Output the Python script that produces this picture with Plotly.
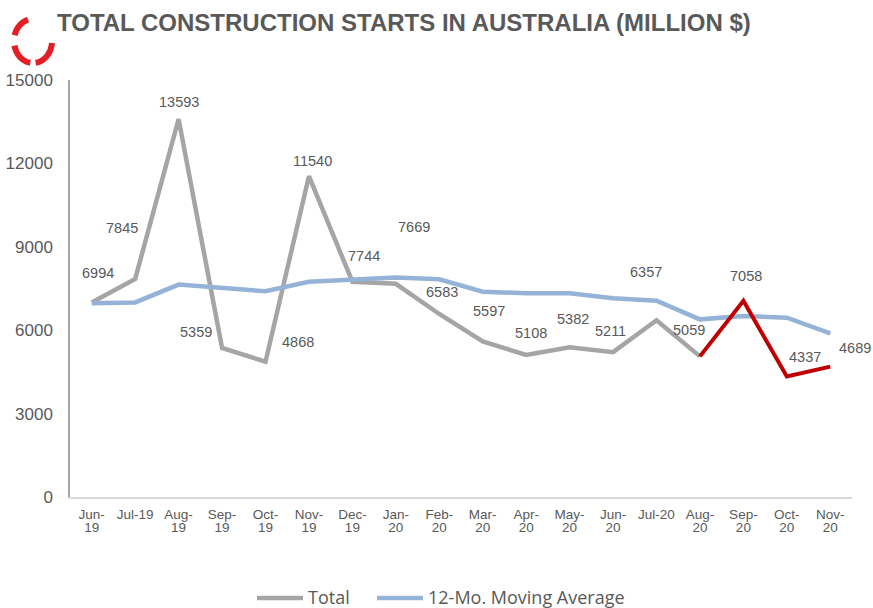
import numpy as np
import plotly.graph_objects as go

# ---------------- data ----------------
months = ["Jun-19", "Jul-19", "Aug-19", "Sep-19", "Oct-19", "Nov-19", "Dec-19",
          "Jan-20", "Feb-20", "Mar-20", "Apr-20", "May-20", "Jun-20", "Jul-20",
          "Aug-20", "Sep-20", "Oct-20", "Nov-20"]
tick_line1 = ["Jun-", "Jul-19", "Aug-", "Sep-", "Oct-", "Nov-", "Dec-", "Jan-", "Feb-",
              "Mar-", "Apr-", "May-", "Jun-", "Jul-20", "Aug-", "Sep-", "Oct-", "Nov-"]
tick_line2 = ["19", "", "19", "19", "19", "19", "19", "20", "20",
              "20", "20", "20", "20", "", "20", "20", "20", "20"]
total = [6994, 7845, 13593, 5359, 4868, 11540, 7744, 7669, 6583, 5597, 5108,
         5382, 5211, 6357, 5059, 7058, 4337, 4689]
moving_avg = [6970, 7000, 7640, 7540, 7400, 7745, 7830, 7900, 7830, 7385, 7330,
              7330, 7150, 7060, 6390, 6510, 6450, 5890]
highlight_start = 14  # Aug-20 onwards drawn in red
series_names = ["Total", "12-Mo. Moving Average"]

# label offsets (pixels) for the data labels: (dx, dy up)
label_dx = [6, -13, 0, -26, 32, 4, 12, 18, 3, 6, 5, 3, -3, -11, -11, 3, 18, 25]
label_dy = [30, 51, 17, 16, 20, 15, 26, 57, 22, 30, 22, 28, 21, 48, 26, 25, 19, 19]

GRAY_TXT = "#595959"
GRAY_LINE = "#A5A5A5"
BLUE_LINE = "#95B3D7"
RED_LINE = "#C00000"
FONT = "Liberation Sans, Arial"

fig = go.Figure()
fig.add_trace(go.Scatter(
    x=months[:highlight_start + 1], y=total[:highlight_start + 1],
    mode="lines", name=series_names[0],
    line=dict(color=GRAY_LINE, width=4.5), hoverinfo="skip"))
fig.add_trace(go.Scatter(
    x=months, y=moving_avg, mode="lines", name=series_names[1],
    line=dict(color=BLUE_LINE, width=4.5), hoverinfo="skip"))
fig.add_trace(go.Scatter(
    x=months[highlight_start:], y=total[highlight_start:], mode="lines",
    line=dict(color=RED_LINE, width=4), hoverinfo="skip"))
# invisible trace to carry the second tick-label row axis
fig.add_trace(go.Scatter(x=months, y=[None] * len(months), xaxis="x2",
                         hoverinfo="skip", mode="lines"))

for i, (m, v) in enumerate(zip(months, total)):
    fig.add_annotation(x=m, y=v, text=str(v), showarrow=False,
                       xshift=label_dx[i], yshift=label_dy[i],
                       font=dict(family=FONT, size=14.5, color=GRAY_TXT))

L, R, T, B = 70, 852, 80, 497
def px2paper(px, py):
    return (px - L) / (R - L), (B - py) / (B - T)

# logo: three red arc segments
cx, cy, rx, ry = 33, 41, 19, 22
for a0, a1 in [(105, 165), (192, 262), (278, 355)]:
    ang = np.radians(np.linspace(a0, a1, 30))
    pts = [px2paper(cx + rx * np.cos(a), cy - ry * np.sin(a)) for a in ang]
    path = "M " + " L ".join(f"{x:.5f},{y:.5f}" for x, y in pts)
    fig.add_shape(type="path", path=path, xref="paper", yref="paper",
                  line=dict(color="#E31E24", width=6))

# legend drawn manually (sample line + text)
legend_items = [(series_names[0], GRAY_LINE, 257, 303, 307),
                (series_names[1], BLUE_LINE, 377, 423, 427)]
for name, col, x0, x1, xt in legend_items:
    p0 = px2paper(x0, 598)
    p1 = px2paper(x1, 598)
    fig.add_shape(type="line", xref="paper", yref="paper",
                  x0=p0[0], y0=p0[1], x1=p1[0], y1=p1[1],
                  line=dict(color=col, width=4.5))
    pt = px2paper(xt, 596.5)
    fig.add_annotation(xref="paper", yref="paper", x=pt[0], y=pt[1], text=name,
                       showarrow=False, xanchor="left", yanchor="middle", borderpad=0,
                       font=dict(family="Open Sans", size=18, color=GRAY_TXT))

fig.update_layout(
    width=873, height=608,
    margin=dict(l=L, r=873 - R, t=T, b=608 - B),
    paper_bgcolor="white", plot_bgcolor="white",
    title=dict(text="TOTAL CONSTRUCTION STARTS IN AUSTRALIA (MILLION $)",
               x=57 / 873, xanchor="left", xref="container",
               y=1 - 23 / 608, yanchor="middle", yref="container",
               font=dict(family=FONT, size=24, color=GRAY_TXT, weight="bold")),
    showlegend=False,
    xaxis=dict(type="category", categoryorder="array", categoryarray=months,
               range=[-0.5, len(months) - 0.5], automargin=False,
               tickmode="array", tickvals=months, ticktext=tick_line1,
               showline=True, linecolor="#D9D9D9", linewidth=1.5,
               showgrid=False, zeroline=False, ticks="",
               ticklabelstandoff=4, tickangle=0,
               tickfont=dict(family=FONT, size=13.5, color=GRAY_TXT)),
    xaxis2=dict(type="category", categoryorder="array", categoryarray=months,
                overlaying="x", anchor="y", side="bottom", automargin=False,
                range=[-0.5, len(months) - 0.5],
                tickmode="array", tickvals=months, ticktext=tick_line2,
                showline=False, showgrid=False, zeroline=False, ticks="",
                ticklabelstandoff=20, tickangle=0,
                tickfont=dict(family=FONT, size=13.5, color=GRAY_TXT)),
    yaxis=dict(range=[0, 15000], tickmode="array", automargin=False,
               tickvals=[0, 3000, 6000, 9000, 12000, 15000],
               ticktext=["0", "3000", "6000", "9000", "12000", "15000"],
               showline=True, linecolor="#A6A6A6", linewidth=1.5,
               showgrid=False, zeroline=False, ticks="", ticklabelstandoff=12,
               tickfont=dict(family=FONT, size=17, color=GRAY_TXT)),
)

fig.write_html("out.html", config={"displayModeBar": False},
               post_script="document.body.style.margin='0px';document.body.style.overflow='hidden';")
